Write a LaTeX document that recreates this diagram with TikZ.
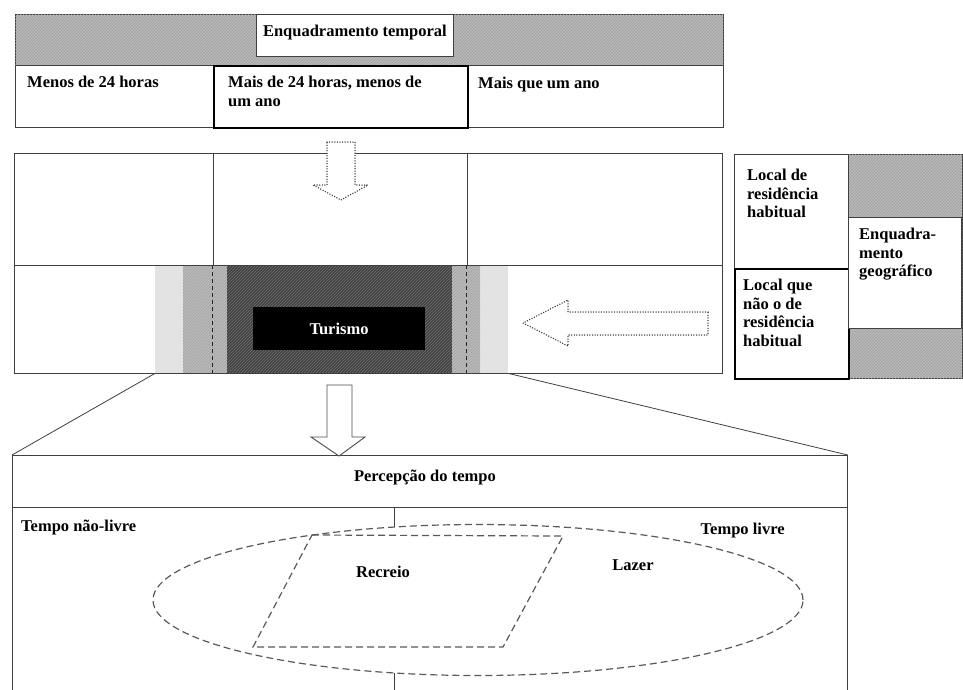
\documentclass[tikz,border=0pt]{standalone}
\usepackage{fontspec}
\setmainfont{Liberation Serif}
\usetikzlibrary{positioning,patterns,shapes.geometric}

\begin{document}
\begin{tikzpicture}[
    x=1pt, y=-1pt,
    font=\fontsize{16.5}{18.5}\selectfont\bfseries,
    box/.style={draw=black!75, line width=0.8pt, inner sep=0pt, anchor=north west},
    strong/.style={box, draw=black, line width=1.6pt},
    hatch/.style={fill=gray!55, postaction={pattern=north east lines, pattern color=gray!75}},
    band/.style={inner sep=0pt, anchor=north west, minimum height=108pt},
    lbl/.style={inner sep=0pt, align=left},
    edge/.style={draw=black!75, line width=0.8pt},
    dashline/.style={draw=black!65, line width=1.2pt, dash pattern=on 7pt off 4pt},
    dots/.style={draw=black!80, line width=1.5pt, dash pattern=on 0pt off 2.6pt, line cap=round, fill=white},
    hollow/.style={draw=black!70, line width=0.9pt, fill=white}
]
    \useasboundingbox (0,0) rectangle (963,689);

    % Enquadramento temporal
    \node[box, hatch, minimum width=708pt, minimum height=51pt] (tbar) at (15,14) {};
    \node[box, fill=white, minimum width=197pt, minimum height=42pt] (thead) at (256,14) {};
    \node[box, minimum width=198pt, minimum height=62pt] (short) at (15,65) {};
    \node[box, minimum width=256pt, minimum height=62pt] (year) at (467,65) {};
    \node[strong, minimum width=254pt, minimum height=62pt] (mid) at (213,65) {};

    \node[lbl, below=11pt of thead.north] (theadtxt) {Enquadramento temporal};
    \node[lbl, below right=11pt and 12pt of short.north west] (shorttxt) {Menos de 24 horas};
    \node[lbl, below right=11pt and 15pt of mid.north west] (midtxt) {Mais de 24 horas, menos de\\um ano};
    \node[lbl, below right=12pt and 11pt of year.north west] (yeartxt) {Mais que um ano};

    % Turismo band
    \node[band, fill=gray!22, minimum width=353pt] (bandL) at (155,265) {};
    \node[band, fill=gray!55, postaction={pattern=north east lines, pattern color=gray!72}, minimum width=297pt] (bandM) at (183,265) {};
    \node[band, fill=black!75, postaction={pattern=north east lines, pattern color=black!55}, minimum width=225pt] (bandD) at (227,265) {};
    \node[fill=black, text=white, inner sep=0pt, minimum width=172pt, minimum height=43pt] (tour) at (339,328.5) {Turismo};

    \node[box, minimum width=708pt, minimum height=220pt] (frame) at (14,153) {};
    \draw[edge] (14,265) -- (722,265);
    \draw[edge] (213,153) -- (213,265);
    \draw[edge] (467,153) -- (467,265);
    \draw[draw=black!85, line width=0.8pt, dash pattern=on 4pt off 3pt] (212,265) -- (212,373);
    \draw[draw=black!85, line width=0.8pt, dash pattern=on 4pt off 3pt] (466,265) -- (466,373);

    % Dotted arrows
    \draw[dots] (327,142) -- (355,142) -- (355,185) -- (368,185) -- (341,200) -- (313,185) -- (327,185) -- cycle;
    \draw[dots] (708,312) -- (568,312) -- (568,300) -- (523,323) -- (568,346) -- (568,335) -- (708,335) -- cycle;

    % Enquadramento geografico
    \node[box, hatch, minimum width=114pt, minimum height=224pt] (geobar) at (848,154) {};
    \node[box, minimum width=114pt, minimum height=114pt] (home) at (734,154) {};
    \node[strong, minimum width=114pt, minimum height=110pt] (away) at (734,268) {};
    \node[box, fill=white, minimum width=113pt, minimum height=111pt] (geohead) at (848,217) {};

    \node[lbl, below right=15pt and 13pt of home.north west] (hometxt) {Local de\\residência\\habitual};
    \node[lbl, below right=11pt and 9pt of away.north west] (awaytxt) {Local que\\não o de\\residência\\habitual};
    \node[lbl, below right=11pt and 11pt of geohead.north west] (geotxt) {Enquadra-\\mento\\geográfico};

    % Percepcao do tempo
    \node[box, minimum width=835pt, minimum height=52pt] (perc) at (12,455) {};
    \node[box, minimum width=835pt, minimum height=185pt] (tempo) at (12,507) {};

    \draw[edge] (bandL.south west) -- (perc.north west);
    \draw[edge] (bandL.south east) -- (perc.north east);
    \draw[hollow] (327,385) -- (352,385) -- (352,437) -- (365,437) -- (339,456) -- (311,437) -- (327,437) -- cycle;

    \node[ellipse, dashline, inner sep=0pt, minimum width=650pt, minimum height=151pt] (leisure) at (478,600) {};
    \draw[dashline] (312,535) -- (563,536) -- (503,647) -- (253,647) -- cycle;
    \draw[edge] (394,507) -- (394,527);
    \draw[edge] (394,673) -- (394,692);

    \node[lbl, below=15pt of perc.north, xshift=-5pt] (perctxt) {Percepção do tempo};
    \node[lbl, below right=13pt and 9pt of tempo.north west] (nfreetxt) {Tempo não-livre};
    \node[lbl, below left=16pt and 63pt of tempo.north east] (freetxt) {Tempo livre};
    \node[lbl] (rectxt) at (383,572) {Recreio};
    \node[lbl] (leztxt) at (633,565) {Lazer};

\end{tikzpicture}
\end{document}
